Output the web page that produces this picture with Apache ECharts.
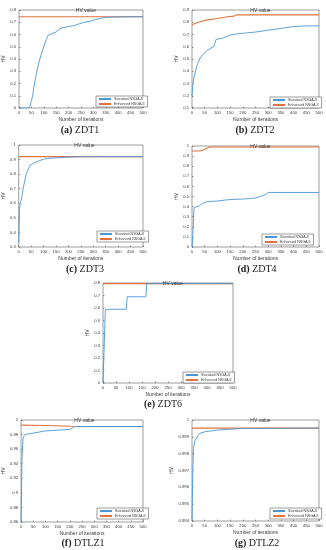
<!DOCTYPE html>
<html><head><meta charset="utf-8">
<script src="https://cdn.jsdelivr.net/npm/echarts@6/dist/echarts.min.js"></script>
<style>html,body{margin:0;padding:0;background:#fff}#c{width:326px;height:550px}</style>
</head><body><div id="c"></div>
<script>
// ---- data ----
const seriesNames = ['Standard NSGA-II', 'Enhanced NSGA-II'];
const captions = [['(a)','ZDT1'],['(b)','ZDT2'],['(c)','ZDT3'],['(d)','ZDT4'],['(e)','ZDT6'],['(f)','DTLZ1'],['(g)','DTLZ2']];
const yRanges = [[0,0.8,0.1],[0.1,0.9,0.1],[0.3,1,0.1],[0,1,0.1],[0,0.8,0.1],[0.86,1,0.02],[0.994,1,0.001]];
const xRange = [0,500,50];

const zdt1Std = [[0,0],[40,0],[45,0.02],[50,0.06],[55,0.1],[60,0.17],[70,0.28],[80,0.37],[90,0.44],[100,0.5],[110,0.56],[118,0.595],[125,0.605],[135,0.61],[145,0.615],[150,0.625],[160,0.64],[175,0.655],[200,0.665],[220,0.672],[240,0.685],[260,0.698],[290,0.71],[310,0.722],[330,0.733],[350,0.74],[400,0.743],[500,0.745]];
const zdt1Enh = [[0,0.745],[100,0.745],[200,0.745],[300,0.745],[400,0.745],[500,0.745]];
const zdt2Std = [[0,0.2],[3,0.28],[6,0.33],[10,0.37],[20,0.45],[30,0.5],[40,0.53],[50,0.55],[60,0.57],[75,0.59],[85,0.6],[90,0.63],[95,0.66],[120,0.67],[150,0.695],[175,0.705],[200,0.71],[250,0.72],[300,0.735],[350,0.75],[400,0.765],[450,0.77],[500,0.77]];
const zdt2Enh = [[0,0.78],[25,0.8],[50,0.815],[100,0.83],[140,0.845],[165,0.85],[175,0.86],[250,0.86],[350,0.86],[500,0.86]];
const zdt3Std = [[0,0.33],[3,0.55],[6,0.6],[10,0.62],[20,0.72],[30,0.8],[45,0.86],[60,0.875],[80,0.89],[100,0.903],[130,0.91],[200,0.917],[250,0.92],[500,0.92]];
const zdt3Enh = [[0,0.92],[100,0.92],[250,0.92],[500,0.92]];
const zdt4Std = [[0,0],[5,0.2],[8,0.39],[20,0.4],[30,0.41],[40,0.43],[60,0.45],[100,0.455],[130,0.465],[150,0.47],[200,0.475],[230,0.48],[250,0.485],[270,0.5],[290,0.52],[300,0.54],[500,0.54]];
const zdt4Enh = [[0,0.95],[30,0.95],[45,0.96],[60,0.98],[70,0.99],[200,0.99],[500,0.99]];
const zdt6Std = [[0,0],[7,0],[9,0.585],[20,0.59],[90,0.59],[93,0.69],[165,0.69],[168,0.795],[500,0.795]];
const zdt6Enh = [[0,0.795],[250,0.795],[500,0.795]];
const dtlz1Std = [[0,0.86],[4,0.95],[8,0.975],[15,0.98],[50,0.982],[100,0.985],[150,0.986],[200,0.987],[210,0.989],[220,0.991],[350,0.991],[500,0.991]];
const dtlz1Enh = [[0,0.993],[100,0.9925],[200,0.9915],[300,0.991],[500,0.991]];
const dtlz2Std = [[0,0.994],[3,0.997],[6,0.9983],[10,0.9987],[20,0.999],[30,0.9992],[50,0.9993],[75,0.99935],[100,0.9994],[150,0.99945],[200,0.9995],[300,0.99951],[500,0.99952]];
const dtlz2Enh = [[0,0.99952],[250,0.99952],[500,0.99952]];

const stdData = [zdt1Std, zdt2Std, zdt3Std, zdt4Std, zdt6Std, dtlz1Std, dtlz2Std];
const enhData = [zdt1Enh, zdt2Enh, zdt3Enh, zdt4Enh, zdt6Enh, dtlz1Enh, dtlz2Enh];

// ---- layout ----
const grids = [
  {left:19, top:10, width:124, height:98},
  {left:192, top:10, width:127, height:98},
  {left:16, top:145, width:127, height:102},
  {left:192, top:146, width:127, height:101},
  {left:103, top:283, width:130, height:100},
  {left:16, top:420, width:127, height:102},
  {left:192, top:420, width:127, height:101}
];
const capPos = [[75,120],[250,120],[80,259],[252,259],[158,394],[78,533],[252,533]];
const legPos = [[96,96],[270,97],[97,231],[262,234],[183,372],[97,508],[270,508]];

const BLUE = '#4a97d6', RED = '#e0733f', AX = '#3a3a3a';
const FONT = 'Liberation Sans, Arial, sans-serif';
const SERIF = 'Liberation Serif, DejaVu Serif, serif';

const option = {animation:false, backgroundColor:'#fff', grid:[], xAxis:[], yAxis:[], series:[], title:[], legend:[]};
grids.forEach((g,i)=>{
  option.grid.push(Object.assign({show:true, borderColor:AX, borderWidth:0.5, backgroundColor:'#fff', containLabel:false}, g));
  option.xAxis.push({type:'value', gridIndex:i, min:xRange[0], max:xRange[1], interval:xRange[2],
    name:'Number of iterations', nameLocation:'middle', nameGap:9,
    nameTextStyle:{fontSize:5, color:AX, fontFamily:FONT},
    axisLine:{show:false}, axisTick:{inside:true, length:1.5, lineStyle:{color:AX, width:0.5}},
    axisLabel:{fontSize:4.2, color:AX, margin:3, fontFamily:FONT}, splitLine:{show:false}});
  const yr = yRanges[i];
  option.yAxis.push({type:'value', gridIndex:i, min:yr[0], max:yr[1], interval:yr[2],
    name:'HV', nameLocation:'middle', nameGap:i===6?17:(i===5?14:10), nameRotate:90,
    nameTextStyle:{fontSize:5, color:AX, fontFamily:FONT},
    axisLine:{show:false}, axisTick:{inside:true, length:1.5, lineStyle:{color:AX, width:0.5}},
    axisLabel:{fontSize:4.2, color:AX, margin:3, fontFamily:FONT}, splitLine:{show:false}});
  option.series.push({type:'line', name:seriesNames[0], xAxisIndex:i, yAxisIndex:i, data:stdData[i], showSymbol:false, symbol:'none', lineStyle:{color:BLUE, width:0.9}, itemStyle:{color:BLUE}, z:3});
  option.series.push({type:'line', name:seriesNames[1], xAxisIndex:i, yAxisIndex:i, data:enhData[i], showSymbol:false, symbol:'none', lineStyle:{color:RED, width:1.1}, itemStyle:{color:RED}, z:2});
  option.title.push({text:'HV value', left:g.left + g.width/2, top:g.top - 7, textAlign:'center',
    textStyle:{fontSize:5, fontWeight:'normal', color:AX, fontFamily:FONT}});
  option.title.push({text:'{b|'+captions[i][0]+'} {n|'+captions[i][1]+'}', left:capPos[i][0], top:capPos[i][1], textAlign:'center',
    textStyle:{fontSize:10, fontWeight:'normal', fontFamily:SERIF, color:'#222',
      rich:{b:{fontSize:10, fontWeight:'bold', fontFamily:SERIF, color:'#222'}, n:{fontSize:10, fontWeight:'normal', fontFamily:SERIF, color:'#222'}}}});
  option.legend.push({data:seriesNames, left:legPos[i][0], top:legPos[i][1], orient:'vertical',
    backgroundColor:'#fff', borderColor:AX, borderWidth:0.5, padding:[1,3,1,2], itemGap:1,
    itemWidth:12, itemHeight:3, selectedMode:false,
    textStyle:{fontSize:3.6, color:AX, fontFamily:FONT, padding:[0,0,0,-2]}});
});
const chart = echarts.init(document.getElementById('c'), null, {renderer:'canvas'});
chart.setOption(option);
</script></body></html>
